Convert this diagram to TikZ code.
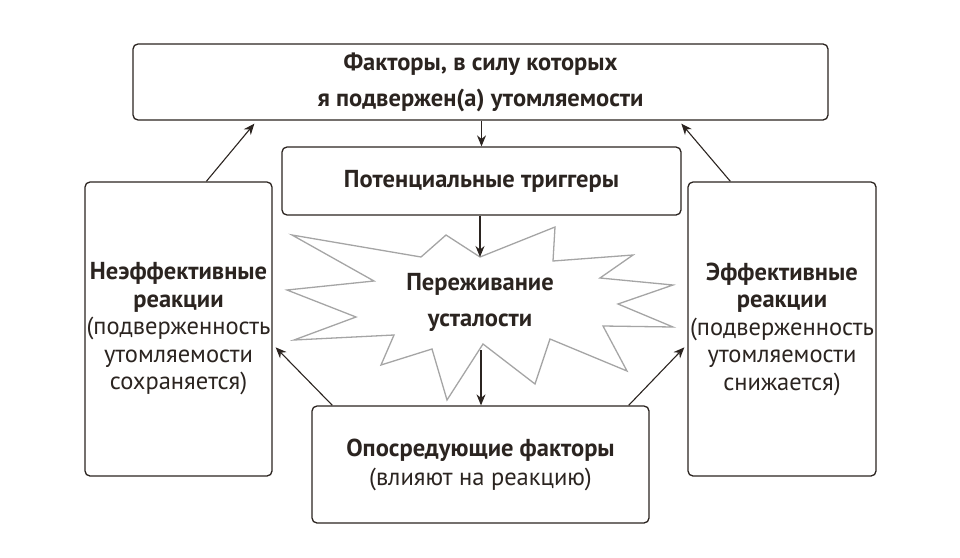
\documentclass[tikz,border=0pt]{standalone}
\usepackage{fontspec}
\setmainfont{PT Sans}
\usetikzlibrary{arrows.meta,calc}
\definecolor{ink}{HTML}{2B2420}
\definecolor{burstgray}{HTML}{A5A5A5}
\begin{document}
\begin{tikzpicture}[x=1pt,y=-1pt,
  box/.style={draw=ink, line width=1.3pt, rounded corners=5pt, text=ink, align=center, inner sep=0pt, fill=white},
  arr/.style={draw=ink, line width=1.1pt, -{Stealth[length=11pt,width=9pt]}},
  tfont/.style={font=\fontsize{24.5}{36}\selectfont},
  sfont/.style={font=\fontsize{24.5}{27.5}\selectfont},
  bfont/.style={font=\fontsize{24.5}{29}\selectfont}]
\useasboundingbox (0,0) rectangle (960,557);
% starburst
\draw[burstgray, line width=1.3pt, line join=miter, fill=white]
  (292,235) -- (421,257) -- (446,235) -- (480,257) -- (555,227) -- (553,261)
  -- (633,255) -- (600,278) -- (673,285) -- (618,304) -- (673,327) -- (603,326)
  -- (627,371) -- (550,339) -- (535,384) -- (483,344) -- (447,400) -- (432,349)
  -- (381,365) -- (394,335) -- (294,340) -- (356,317) -- (287,290) -- (374,281) -- cycle;
\coordinate (bursttop) at (480,257);
\coordinate (burstbot) at (481,350);
\node[text=ink, align=center, font=\fontsize{24.5}{36}\selectfont\bfseries] (burst) at (480,302) {Переживание\\усталости};
% boxes
\node[box, tfont, minimum width=695pt, minimum height=76pt] (top) at (480.5,82)
  {\bfseries Факторы, в силу которых\\\bfseries я подвержен(а) утомляемости};
\node[box, tfont, minimum width=399pt, minimum height=68pt] (trig) at (481.5,181)
  {\bfseries Потенциальные триггеры};
\node[box, sfont, minimum width=187pt, minimum height=294pt] (left) at (178.5,329)
  {\bfseries Неэффективные\\\bfseries реакции\\(подверженность\\утомляемости\\сохраняется)};
\node[box, sfont, minimum width=188pt, minimum height=294pt] (right) at (782,329)
  {\bfseries Эффективные\\\bfseries реакции\\(подверженность\\утомляемости\\снижается)};
\node[box, bfont, minimum width=337pt, minimum height=117pt] (bot) at (480.5,464.5)
  {\bfseries Опосредующие факторы\\(влияют на реакцию)};
% arrows
\draw[arr] (top.south -| trig.north) -- (trig.north);
\draw[arr] (trig.south -| bursttop) -- (bursttop);
\draw[arr] (burstbot) -- (burstbot |- bot.north);
\draw[arr] ($(left.north west)+(122,0)$) -- ($(top.south west)+(122,3)$);
\draw[arr] ($(right.north west)+(43,0)$) -- ($(top.south west)+(549,3)$);
\draw[arr] ($(bot.north west)+(21,0)$) -- ($(left.north east)+(3,166)$);
\draw[arr] ($(bot.north east)+(-21,0)$) -- ($(right.north west)+(-3,166)$);
\end{tikzpicture}
\end{document}
